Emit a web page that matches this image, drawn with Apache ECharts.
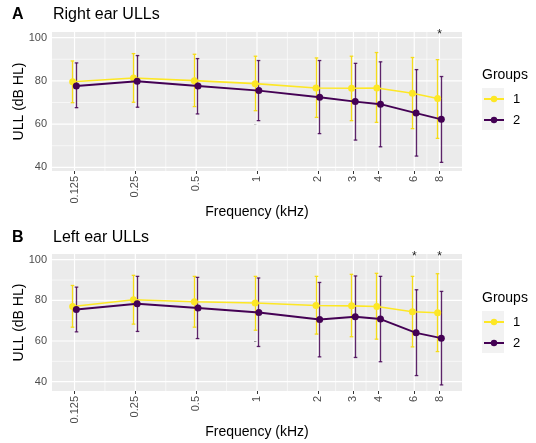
<!DOCTYPE html>
<html>
<head>
<meta charset="utf-8">
<script src="https://cdn.jsdelivr.net/npm/echarts@6/dist/echarts.min.js"></script>
<style>
  html, body { margin: 0; padding: 0; background: #ffffff; }
  #chart { width: 536px; height: 443px; }
</style>
</head>
<body>
<div id="chart"></div>
<script>
// Test frequencies (kHz) and their tick labels
const freqs = [0.125, 0.25, 0.5, 1, 2, 3, 4, 6, 8];
const freqLabels = ['0.125', '0.25', '0.5', '1', '2', '3', '4', '6', '8'];
const yTicks = [40, 60, 80, 100];
const yMinorTicks = [50, 70, 90];

// Right ear ULLs (dB HL): mean and error-bar limits per group
const rightG1Mean = [79.6, 81.3, 80.1, 78.7, 76.7, 76.6, 76.7, 74.3, 71.8];
const rightG1Low  = [69.9, 70.1, 68.1, 66.2, 63.1, 61.6, 60.8, 57.9, 53.4];
const rightG1High = [89.2, 92.6, 92.3, 91.4, 90.6, 91.4, 93.1, 90.8, 89.8];
const rightG2Mean = [77.6, 79.8, 77.6, 75.5, 72.4, 70.4, 69.2, 65.1, 62.2];
const rightG2Low  = [67.6, 67.8, 64.7, 61.6, 55.6, 52.6, 49.5, 45.2, 42.3];
const rightG2High = [88.3, 91.7, 90.3, 89.4, 89.4, 88.1, 88.8, 85.2, 82.0];

// Left ear ULLs (dB HL)
const leftG1Mean = [77.0, 80.3, 79.3, 78.7, 77.5, 77.3, 77.0, 74.4, 73.9];
const leftG1Low  = [66.8, 68.3, 66.8, 65.3, 63.4, 62.1, 60.9, 57.1, 54.8];
const leftG1High = [87.3, 92.3, 91.8, 91.8, 91.8, 92.8, 93.3, 91.8, 93.1];
const leftG2Mean = [75.5, 78.3, 76.2, 74.0, 70.6, 71.9, 70.8, 64.0, 61.4];
const leftG2Low  = [64.5, 64.7, 61.2, 57.3, 52.2, 51.9, 49.8, 43.0, 38.4];
const leftG2High = [86.5, 91.8, 91.3, 91.0, 88.8, 92.0, 91.8, 85.2, 84.4];

// Frequencies with a significant group difference
const rightSig = [8];
const leftSig = [6, 8];

const groupNames = ['1', '2'];
const groupColors = ['#FDE725', '#440154'];
const barColors = ['#F5DC18', 'rgba(68,1,84,0.85)'];

// ---- layout / styling ----
const FONT = 'Liberation Sans, Arial, Helvetica, sans-serif';
const DODGE = 0.03;          // horizontal offset of each group (log2 units)
const STAR_Y = 101.3;        // height of significance markers
const X_MIN = -3.37, X_MAX = 3.37;

// x positions on a log2 scale
const xTickPos = freqs.map(f => Math.log2(f));
const xMinorPos = xTickPos.slice(1).map((v, i) => (v + xTickPos[i]) / 2);

function labelFor(v) {
  let best = 0;
  xTickPos.forEach((p, i) => { if (Math.abs(p - v) < Math.abs(xTickPos[best] - v)) best = i; });
  return freqLabels[best];
}

const panels = [
  { title: 'A', subtitle: 'Right ear ULLs', grid: { left: 52, top: 32, width: 410, height: 139 },
    yMin: 38.3, yMax: 102.6,
    means: [rightG1Mean, rightG2Mean], lows: [rightG1Low, rightG2Low], highs: [rightG1High, rightG2High],
    sig: rightSig, titleY: 15.5, legendTop: 92, keyBox: [482, 88, 22, 42], groupsY: 76 },
  { title: 'B', subtitle: 'Left ear ULLs', grid: { left: 52, top: 254, width: 410, height: 137 },
    yMin: 35.4, yMax: 102.8,
    means: [leftG1Mean, leftG2Mean], lows: [leftG1Low, leftG2Low], highs: [leftG1High, leftG2High],
    sig: leftSig, titleY: 238.5, legendTop: 315, keyBox: [482, 311, 22, 42], groupsY: 299 }
];

function errorBarRender(params, api) {
  const x = api.value(0), lo = api.value(1), hi = api.value(2);
  const pLo = api.coord([x, lo]);
  const pHi = api.coord([x, hi]);
  const px = Math.round(pLo[0] - 0.5) + 0.5;   // keep the stem crisp
  const cap = 1.8;
  const style = { stroke: barColors[params.seriesName === 'eb2' ? 1 : 0], lineWidth: 1.3, fill: null };
  return {
    type: 'group',
    children: [
      { type: 'line', shape: { x1: px, y1: pLo[1], x2: px, y2: pHi[1] }, style },
      { type: 'line', shape: { x1: px - cap, y1: pLo[1], x2: px + cap, y2: pLo[1] }, style },
      { type: 'line', shape: { x1: px - cap, y1: pHi[1], x2: px + cap, y2: pHi[1] }, style }
    ]
  };
}

// panel grid lines (major and minor) drawn through the axis scales
function vGridRender(params, api) {
  const cs = params.coordSys;
  const x = api.coord([api.value(0), api.value(1)])[0];
  const major = api.value(2) === 1;
  return { type: 'line', shape: { x1: x, y1: cs.y, x2: x, y2: cs.y + cs.height },
    style: { stroke: '#ffffff', lineWidth: major ? 1.2 : 0.6 } };
}
function hGridRender(params, api) {
  const cs = params.coordSys;
  const y = api.coord([api.value(0), api.value(1)])[1];
  const major = api.value(2) === 1;
  return { type: 'line', shape: { x1: cs.x, y1: y, x2: cs.x + cs.width, y2: y },
    style: { stroke: '#ffffff', lineWidth: major ? 1.2 : 0.6 } };
}
function starRender(params, api) {
  const p = api.coord([api.value(0), api.value(1)]);
  return { type: 'text', x: p[0], y: p[1],
    style: { text: '*', fill: '#222', font: '12px ' + FONT, align: 'center', verticalAlign: 'middle' } };
}

const grids = [], xAxes = [], yAxes = [], series = [], legends = [], graphics = [];

panels.forEach((pn, pi) => {
  grids.push(Object.assign({ show: true, backgroundColor: '#EBEBEB', borderWidth: 0,
    containLabel: false, outerBoundsMode: 'none' }, pn.grid));

  xAxes.push({
    type: 'value', gridIndex: pi, min: X_MIN, max: X_MAX,
    axisLine: { show: false }, splitLine: { show: false },
    axisTick: { show: true, customValues: xTickPos, length: 3, lineStyle: { color: '#333333', width: 1 } },
    axisLabel: { customValues: xTickPos, rotate: 90, margin: 5, fontSize: 11, color: '#4D4D4D',
      fontFamily: FONT, formatter: v => labelFor(v) },
    name: 'Frequency (kHz)', nameLocation: 'middle', nameGap: 34, nameMoveOverlap: false,
    nameTextStyle: { fontSize: 14, color: '#000000', fontFamily: FONT }
  });
  yAxes.push({
    type: 'value', gridIndex: pi, min: pn.yMin, max: pn.yMax,
    axisLine: { show: false }, splitLine: { show: false },
    axisTick: { show: true, customValues: yTicks, length: 3, lineStyle: { color: '#333333', width: 1 } },
    axisLabel: { customValues: yTicks, margin: 5, fontSize: 11, color: '#4D4D4D', fontFamily: FONT },
    name: 'ULL (dB HL)', nameLocation: 'middle', nameGap: 26, nameRotate: 90, nameMoveOverlap: false,
    nameTextStyle: { fontSize: 14, color: '#000000', fontFamily: FONT }
  });

  const mid = (pn.yMin + pn.yMax) / 2;
  series.push({
    type: 'custom', xAxisIndex: pi, yAxisIndex: pi, silent: true, z: 1,
    renderItem: vGridRender,
    data: xTickPos.map(v => [v, mid, 1]).concat(xMinorPos.map(v => [v, mid, 0]))
  });
  series.push({
    type: 'custom', xAxisIndex: pi, yAxisIndex: pi, silent: true, z: 1,
    renderItem: hGridRender,
    data: yTicks.map(v => [0, v, 1]).concat(yMinorTicks.map(v => [0, v, 0]))
  });

  // error bars, then lines with points, per group
  [0, 1].forEach(g => {
    const off = g === 0 ? -DODGE : DODGE;
    series.push({
      type: 'custom', name: 'eb' + (g + 1), xAxisIndex: pi, yAxisIndex: pi, silent: true, z: 3 + g,
      renderItem: errorBarRender,
      data: xTickPos.map((x, i) => [x + off, pn.lows[g][i], pn.highs[g][i]])
    });
  });
  [0, 1].forEach(g => {
    const off = g === 0 ? -DODGE : DODGE;
    series.push({
      type: 'line', name: groupNames[g], xAxisIndex: pi, yAxisIndex: pi, z: 5 + g,
      symbol: 'circle', symbolSize: 7, showSymbol: true,
      color: groupColors[g],
      lineStyle: { color: groupColors[g], width: g === 0 ? 1.6 : 1.9 },
      itemStyle: { color: groupColors[g] },
      animation: false,
      data: xTickPos.map((x, i) => [x + off, pn.means[g][i]])
    });
  });

  series.push({
    type: 'custom', xAxisIndex: pi, yAxisIndex: pi, silent: true, z: 8,
    renderItem: starRender,
    data: pn.sig.map(f => [Math.log2(f), STAR_Y])
  });

  legends.push({
    data: groupNames, left: 483, top: pn.legendTop, orient: 'vertical',
    itemWidth: 20, itemHeight: 8, itemGap: 7, padding: 0, selectedMode: false,
    textStyle: { fontSize: 13, color: '#000000', fontFamily: FONT, lineHeight: 14, padding: [0, 0, 0, 4] }
  });

  graphics.push(
    { type: 'text', left: 12, top: pn.titleY - 9,
      style: { text: pn.title, font: 'bold 16px ' + FONT, fill: '#000000' } },
    { type: 'text', left: 53, top: pn.titleY - 9,
      style: { text: pn.subtitle, font: '16px ' + FONT, fill: '#000000' } },
    { type: 'text', left: 482, top: pn.groupsY - 8,
      style: { text: 'Groups', font: '14px ' + FONT, fill: '#000000' } },
    { type: 'rect', left: pn.keyBox[0], top: pn.keyBox[1], z: -1,
      shape: { width: pn.keyBox[2], height: pn.keyBox[3] }, style: { fill: '#F2F2F2' } }
  );
});

const chart = echarts.init(document.getElementById('chart'), null, { renderer: 'canvas' });
chart.setOption({
  animation: false,
  backgroundColor: '#ffffff',
  textStyle: { fontFamily: FONT },
  grid: grids,
  xAxis: xAxes,
  yAxis: yAxes,
  legend: legends,
  graphic: graphics,
  series: series
});
</script>
</body>
</html>
